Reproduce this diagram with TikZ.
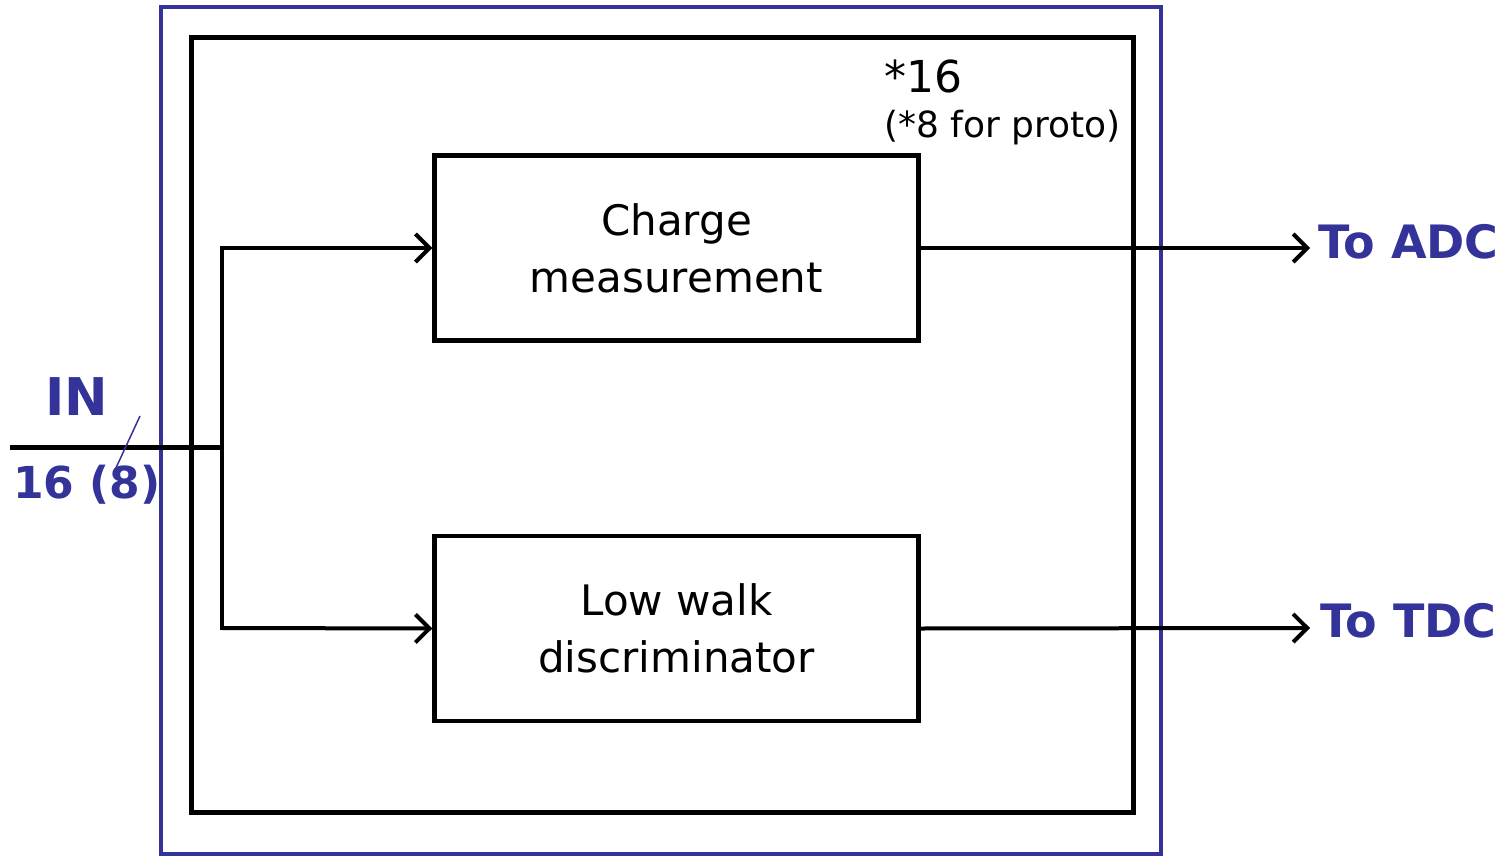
\documentclass[tikz,border=0pt]{standalone}
\usepackage{fontspec}
\setmainfont{DejaVu Sans}
\usetikzlibrary{arrows.meta}
\definecolor{dblue}{RGB}{51,51,153}
\tikzset{
  outer/.style={draw=dblue, line width=4pt},
  inner/.style={draw=black, line width=5pt},
  blockbox/.style={draw=black, line width=4.5pt, minimum width=484pt, minimum height=185pt, align=center, inner sep=0pt, font=\fontsize{42}{57}\selectfont},
  wire/.style={draw=black, line width=4pt},
  arr/.style={wire, -{Straight Barb[length=14pt, width=28pt, line width=4pt]}},
  bluelab/.style={text=dblue, font=\bfseries\fontsize{44}{50}\selectfont, inner sep=0pt},
}
\begin{document}
\begin{tikzpicture}[x=1pt, y=-1pt]
\useasboundingbox (0,0) rectangle (1505,856);
\draw[outer] (161,7) rectangle (1161,854);
\draw[inner] (191,38) rectangle (1133,812);
\node[blockbox] (cm) at (676.5,248) {Charge\\measurement};
\node[blockbox] (lw) at (676.5,628.5) {Low walk\\discriminator};
\coordinate (inL) at (10,447);
\coordinate (sp) at (222,447);
\coordinate (spT) at (222,248);
\coordinate (spB) at (222,628);
\coordinate (adc) at (1310,248);
\coordinate (tdc) at (1310,628);
\draw[wire, line width=5pt] (inL) -- (sp);
\draw[wire, line cap=rect] (spT) -- (spB);
\draw[arr] (spT) -- (cm.west);
\draw[arr] (spB) -- (lw.west);
\draw[arr] (cm.east) -- (adc);
\draw[arr] (lw.east) -- (tdc);
\coordinate (s1) at (140,416);
\coordinate (s2) at (115,470);
\draw[dblue, line width=1.5pt] (s1) -- (s2);
\node[bluelab, font=\bfseries\fontsize{52}{56}\selectfont] (in) at (77,397) {IN};
\node[bluelab] (n16) at (87,485) {16 (8)};
\node[bluelab, anchor=west, font=\bfseries\fontsize{46}{50}\selectfont] (tadc) at (1318,242) {To ADC};
\node[bluelab, anchor=west, font=\bfseries\fontsize{46}{50}\selectfont] (ttdc) at (1320,621) {To TDC};
\node[anchor=west, inner sep=0pt, font=\fontsize{44}{50}\selectfont] (m16) at (884,76) {*16};
\node[anchor=west, inner sep=0pt, font=\fontsize{36}{40}\selectfont] (m8) at (884,128) {(*8 for proto)};
\end{tikzpicture}
\end{document}
